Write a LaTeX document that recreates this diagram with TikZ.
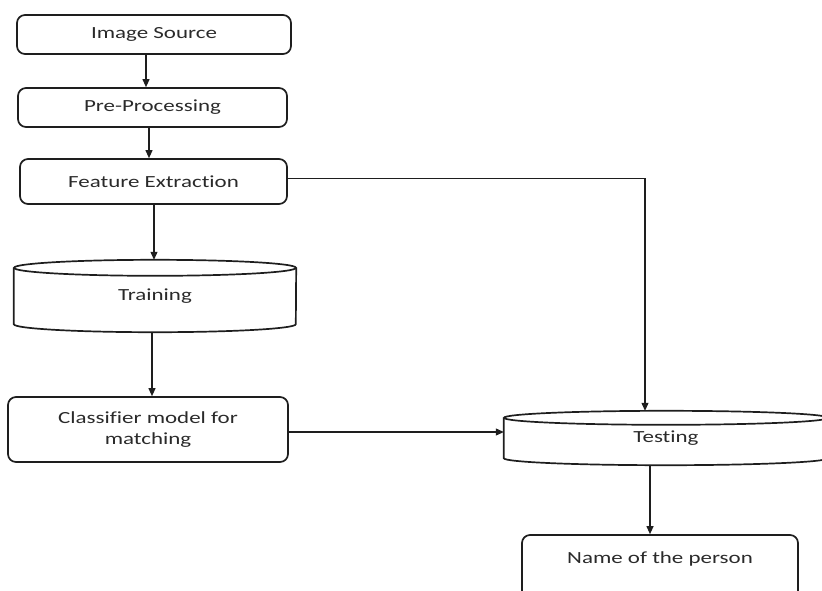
\documentclass[tikz,border=0pt]{standalone}
\usepackage{fontspec}
\setmainfont[FakeStretch=1.35,Ligatures={NoCommon}]{Carlito}
\usetikzlibrary{calc,arrows.meta}
\definecolor{ink}{HTML}{1E1E1E}
\definecolor{txt}{HTML}{2A2A2A}
\tikzset{
  box/.style={draw=ink, line width=1.7pt, rounded corners=8pt, align=center,
    font=\fontsize{17}{21}\selectfont, text=txt, inner sep=0pt},
  cyl/.style={draw=none, align=center, font=\fontsize{17}{21}\selectfont, text=txt, inner sep=0pt},
  cylline/.style={draw=ink, line width=1.7pt},
  conn/.style={draw=ink, line width=1.1pt, -{Triangle[length=8pt,width=7pt]}},
}
\newcommand\drawcyl[3]{%
  \draw[cylline] ($(#1.north)+(0,#2)$) ellipse[x radius=#3pt, y radius=#2pt];
  \draw[cylline] ($(#1.north west)+(0,#2)$) -- ($(#1.south west)+(0,-#2)$)
    arc[start angle=180, end angle=360, x radius=#3pt, y radius=#2pt]
    -- ($(#1.north east)+(0,#2)$);
}
\begin{document}
\begin{tikzpicture}[x=1pt,y=-1pt]
\useasboundingbox (0,0) rectangle (822,590);
\clip (0,0) rectangle (822,590);
\node[box, minimum width=274pt, minimum height=39pt] (img) at (154,34.5) {Image Source};
\node[box, minimum width=269pt, minimum height=39pt] (pre) at (152.5,107.5) {Pre-Processing};
\node[box, minimum width=267pt, minimum height=45pt] (feat) at (153.5,181.5) {Feature Extraction};
\node[cyl, minimum width=282pt, minimum height=72pt] (train) at (155,296) {Training};
\node[box, minimum width=280pt, minimum height=65pt] (cls) at (148,429.5) {Classifier model for\\matching};
\node[cyl, minimum width=324pt, minimum height=54pt] (test) at (666,438) {Testing};
\node[box, minimum width=276pt, minimum height=64pt, text height=28pt, text depth=36pt] (name) at (660,567) {Name of the person};
\drawcyl{train}{8}{141}
\drawcyl{test}{7}{162}
\draw[conn] ([xshift=-8pt]img.south) -- ([xshift=-8pt]img.south |- pre.north);
\draw[conn] ([xshift=-3.5pt]pre.south) -- ([xshift=-3.5pt]pre.south |- feat.north);
\draw[conn] ([xshift=0.5pt]feat.south) -- ([xshift=0.5pt]feat.south |- train.north);
\draw[conn] ([xshift=-3pt]train.south) -- ([xshift=-3pt]train.south |- cls.north);
\draw[conn] ([yshift=-2.5pt]cls.east) -- ([yshift=-2.5pt]cls.east -| test.west);
\draw[conn] ([yshift=3pt]feat.east) -| ([xshift=-21pt]test.north);
\draw[conn] ([xshift=-16pt]test.south) -- ([xshift=-16pt]test.south |- name.north);
\end{tikzpicture}
\end{document}
